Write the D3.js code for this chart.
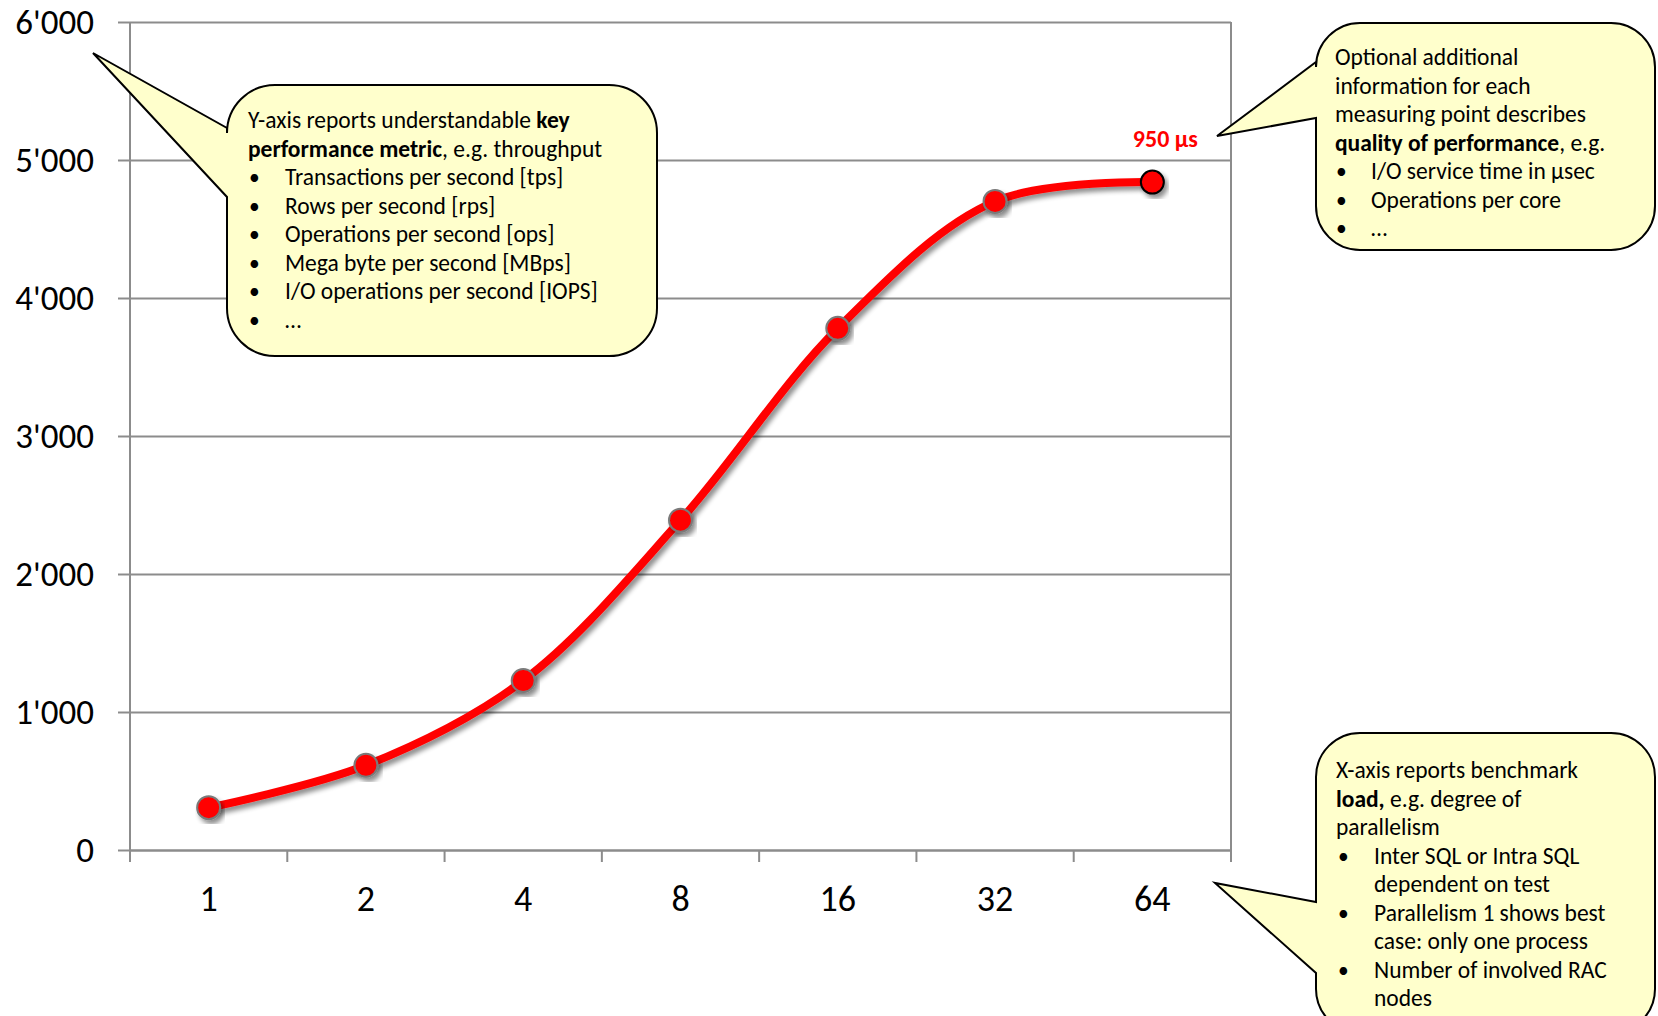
<!DOCTYPE html>
<html>
<head>
<meta charset="utf-8">
<script src="https://cdn.jsdelivr.net/npm/d3@7"></script>
<style>
  body { margin: 0; background: #fff; }
  text { font-family: Carlito, Calibri, Lato, sans-serif; }
</style>
</head>
<body>
<div id="root"></div>
<script>
var width = 1658;
var height = 1016;

// data
var categories = ['1', '2', '4', '8', '16', '32', '64'];
var throughput = [307, 614, 1228, 2390, 3780, 4700, 4840];
var yTicks = [0, 1000, 2000, 3000, 4000, 5000, 6000];
var pointNotes = ['', '', '', '', '', '', '950 µs'];

var plot = { left: 130, right: 1231, top: 22, bottom: 850 };
var fontSize = 23.5;

var svg = d3.select('#root')
    .append('svg')
    .attr('width', width).attr('height', height);

svg.append('rect').attr('width', width).attr('height', height).attr('fill', '#fff');

var defs = svg.append('defs');
var shadow = defs.append('filter').attr('id', 'shadow')
    .attr('x', '-20%').attr('y', '-20%').attr('width', '140%').attr('height', '140%');
shadow.append('feGaussianBlur').attr('in', 'SourceAlpha').attr('stdDeviation', 2.5);
shadow.append('feOffset').attr('dx', 3).attr('dy', 4).attr('result', 'off');
shadow.append('feComponentTransfer').append('feFuncA').attr('type', 'linear').attr('slope', 0.45);
var merge = shadow.append('feMerge');
merge.append('feMergeNode');
merge.append('feMergeNode').attr('in', 'SourceGraphic');

var xScale = d3.scaleBand()
    .domain(categories)
    .range([plot.left, plot.right]);
var yScale = d3.scaleLinear()
    .domain([0, 6000])
    .range([plot.bottom, plot.top]);

var fmt = function (d) { return d3.format(',')(d).replace(/,/g, "'"); };

// gridlines
svg.append('g')
    .attr('transform', 'translate(' + plot.left + ',0)')
    .call(d3.axisLeft(yScale).tickValues(yTicks).tickSize(-(plot.right - plot.left)).tickFormat(''))
    .call(function (g) {
        g.select('.domain').remove();
        g.selectAll('line').attr('stroke', '#8c8c8c').attr('stroke-width', 2);
    });

// y axis
svg.append('g')
    .attr('transform', 'translate(' + plot.left + ',0)')
    .call(d3.axisLeft(yScale).tickValues(yTicks).tickSize(12).tickSizeOuter(0).tickPadding(24).tickFormat(fmt))
    .call(function (g) {
        g.select('.domain').attr('stroke', '#8c8c8c').attr('stroke-width', 2)
            .attr('d', 'M0,' + plot.top + 'V' + (plot.bottom + 12));
        g.selectAll('line').attr('stroke', '#8c8c8c').attr('stroke-width', 2);
        g.selectAll('text').attr('font-size', 35).attr('fill', '#000').attr('dy', '0.34em');
    });

// right border
svg.append('line')
    .attr('x1', plot.right).attr('x2', plot.right)
    .attr('y1', plot.top).attr('y2', plot.bottom + 12)
    .attr('stroke', '#8c8c8c').attr('stroke-width', 2);

// x axis labels
svg.append('g')
    .attr('transform', 'translate(0,' + plot.bottom + ')')
    .call(d3.axisBottom(xScale).tickSize(0).tickPadding(35))
    .call(function (g) {
        g.select('.domain').attr('stroke', '#8c8c8c').attr('stroke-width', 2);
        g.selectAll('text').attr('font-size', 36).attr('fill', '#000');
    });

// x tick marks at category boundaries
var bounds = categories.map(function (c) { return xScale(c); }).concat([xScale.range()[1]]);
svg.append('g').selectAll('line').data(bounds).enter()
    .append('line')
    .attr('x1', function (d) { return d; }).attr('x2', function (d) { return d; })
    .attr('y1', plot.bottom).attr('y2', plot.bottom + 12)
    .attr('stroke', '#8c8c8c').attr('stroke-width', 2);

// series
var pts = categories.map(function (c, i) {
    return { x: xScale(c) + xScale.bandwidth() / 2, y: yScale(throughput[i]), note: pointNotes[i], last: i === categories.length - 1 };
});
var line = d3.line()
    .x(function (d) { return d.x; })
    .y(function (d) { return d.y; })
    .curve(d3.curveCatmullRom.alpha(0.5));

svg.append('path')
    .datum(pts)
    .attr('d', line)
    .attr('fill', 'none')
    .attr('stroke', '#ff0000')
    .attr('stroke-width', 8)
    .attr('filter', 'url(#shadow)');

svg.selectAll('.marker')
    .data(pts).enter()
    .append('circle')
    .attr('class', 'marker')
    .attr('cx', function (d) { return d.x; })
    .attr('cy', function (d) { return d.y; })
    .attr('r', 11.5)
    .attr('fill', '#ff0000')
    .attr('stroke', function (d) { return d.last ? '#000' : '#7a7a7a'; })
    .attr('stroke-width', 2)
    .attr('filter', 'url(#shadow)');

svg.selectAll('.note')
    .data(pts.filter(function (d) { return d.note; })).enter()
    .append('text')
    .attr('class', 'note')
    .attr('x', function (d) { return d.x + 13; })
    .attr('y', function (d) { return d.y - 35; })
    .attr('text-anchor', 'middle')
    .attr('font-size', 24)
    .attr('font-weight', 'bold')
    .attr('fill', '#ff0000')
    .text(function (d) { return d.note; });

// callouts
function calloutPath(x, y, w, h, r, b1, b2, tip) {
    return 'M' + (x + r) + ',' + y +
        'H' + (x + w - r) + 'A' + r + ',' + r + ' 0 0 1 ' + (x + w) + ',' + (y + r) +
        'V' + (y + h - r) + 'A' + r + ',' + r + ' 0 0 1 ' + (x + w - r) + ',' + (y + h) +
        'H' + (x + r) + 'A' + r + ',' + r + ' 0 0 1 ' + x + ',' + (y + h - r) +
        'V' + b2 + 'L' + tip[0] + ',' + tip[1] + 'L' + x + ',' + b1 +
        'V' + (y + r) + 'A' + r + ',' + r + ' 0 0 1 ' + (x + r) + ',' + y + 'Z';
}

function callout(box, lines) {
    var g = svg.append('g');
    g.append('path')
        .attr('d', calloutPath(box.x, box.y, box.w, box.h, box.r, box.b1, box.b2, box.tip))
        .attr('fill', '#ffffcc')
        .attr('stroke', '#000')
        .attr('stroke-width', 2);
    lines.forEach(function (ln, i) {
        var y = box.ty + i * 28.5;
        if (ln.bullet) {
            g.append('text').attr('x', box.bx).attr('y', y).attr('font-size', fontSize - 2).text('•');
        }
        var t = g.append('text')
            .attr('x', ln.bullet || ln.cont ? box.ix : box.tx)
            .attr('y', y)
            .attr('font-size', fontSize)
            .attr('fill', '#000');
        ln.parts.forEach(function (p) {
            t.append('tspan').attr('font-weight', p[1] ? 'bold' : 'normal').text(p[0]);
        });
    });
}

callout({ x: 227, y: 85, w: 430, h: 271, r: 48, b1: 128, b2: 197, tip: [93, 53], tx: 248, bx: 249, ix: 285, ty: 128 }, [
    { parts: [['Y-axis reports understandable ', 0], ['key', 1]] },
    { parts: [['performance metric', 1], [', e.g. throughput', 0]] },
    { bullet: 1, parts: [['Transactions per second [tps]', 0]] },
    { bullet: 1, parts: [['Rows per second [rps]', 0]] },
    { bullet: 1, parts: [['Operations per second [ops]', 0]] },
    { bullet: 1, parts: [['Mega byte per second [MBps]', 0]] },
    { bullet: 1, parts: [['I/O operations per second [IOPS]', 0]] },
    { bullet: 1, parts: [['…', 0]] }
]);

callout({ x: 1316, y: 23, w: 339, h: 227, r: 44, b1: 62, b2: 118, tip: [1217, 136], tx: 1335, bx: 1336, ix: 1371, ty: 65 }, [
    { parts: [['Optional additional', 0]] },
    { parts: [['information for each', 0]] },
    { parts: [['measuring point describes', 0]] },
    { parts: [['quality of performance', 1], [', e.g.', 0]] },
    { bullet: 1, parts: [['I/O service time in µsec', 0]] },
    { bullet: 1, parts: [['Operations per core', 0]] },
    { bullet: 1, parts: [['…', 0]] }
]);

callout({ x: 1316, y: 733, w: 339, h: 300, r: 44, b1: 902, b2: 973, tip: [1215, 883], tx: 1336, bx: 1338, ix: 1374, ty: 778 }, [
    { parts: [['X-axis reports benchmark', 0]] },
    { parts: [['load,', 1], [' e.g. degree of', 0]] },
    { parts: [['parallelism', 0]] },
    { bullet: 1, parts: [['Inter SQL or Intra SQL', 0]] },
    { cont: 1, parts: [['dependent on test', 0]] },
    { bullet: 1, parts: [['Parallelism 1 shows best', 0]] },
    { cont: 1, parts: [['case: only one process', 0]] },
    { bullet: 1, parts: [['Number of involved RAC', 0]] },
    { cont: 1, parts: [['nodes', 0]] }
]);
</script>
</body>
</html>
